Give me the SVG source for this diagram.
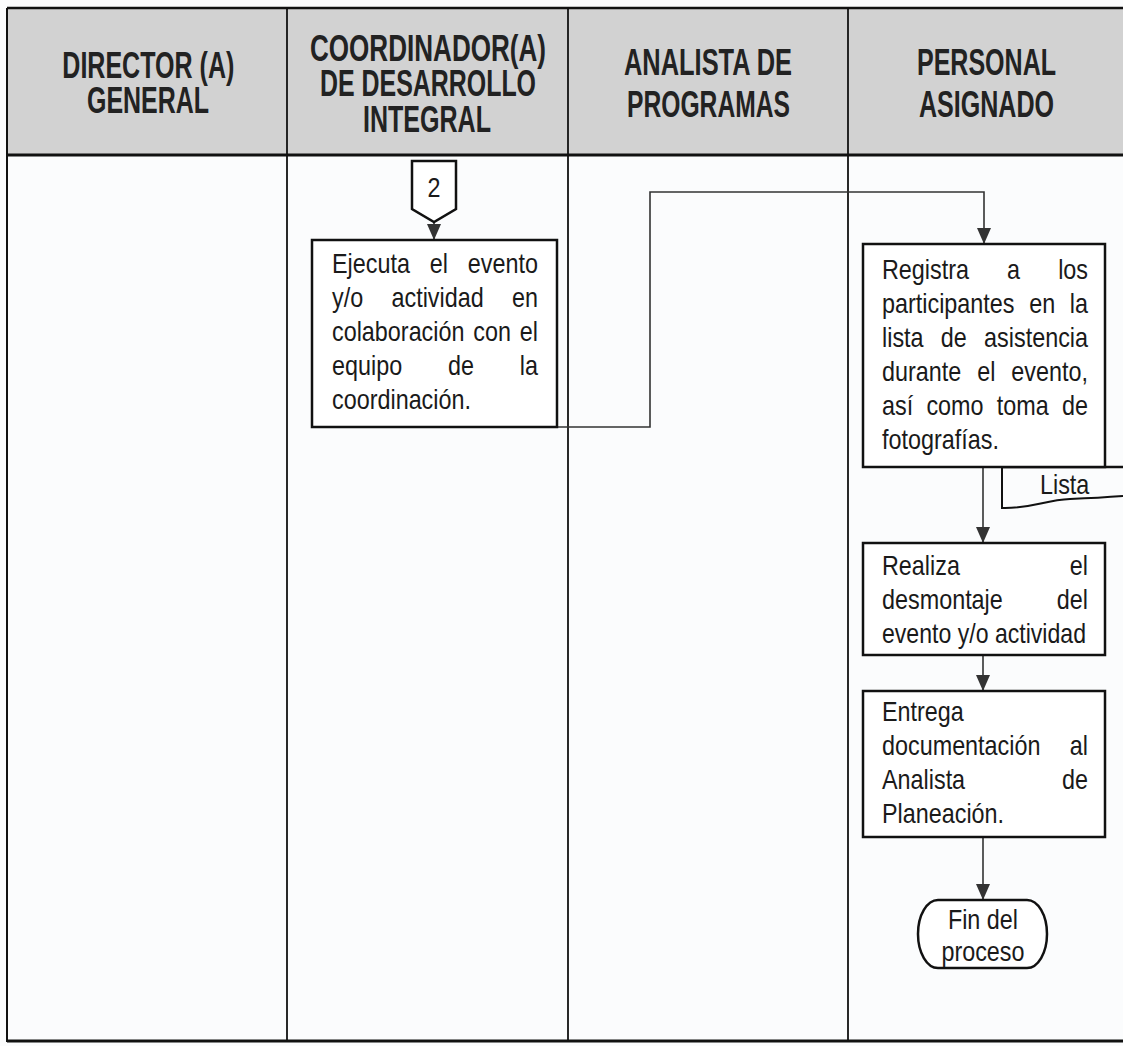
<svg xmlns="http://www.w3.org/2000/svg" width="1123" height="1046" viewBox="0 0 1123 1046">
<defs>
<marker id="arr" markerUnits="userSpaceOnUse" markerWidth="16" markerHeight="14" refX="16" refY="7" orient="auto" viewBox="0 0 16 14">
<path d="M0,0 L16,7 L0,14 Z" fill="#333"/>
</marker>
<style>
.hd{font-family:"Liberation Sans",Arial,sans-serif;font-weight:bold;font-size:36px;fill:#222}
.tx{font-family:"Liberation Sans",Arial,sans-serif;font-size:28.5px;fill:#1a1a1a}
.box{fill:#fff;stroke:#111;stroke-width:2.5}
.grid{stroke:#111;fill:none}
.con{stroke:#333;stroke-width:1.6;fill:none}
</style>
</defs>
<rect x="0" y="0" width="1123" height="1046" fill="#fbfcfd"/>
<rect x="7" y="8" width="1116" height="147" fill="#d2d2d2"/>
<g id="grid">
<line class="grid" x1="7" y1="8" x2="1123" y2="8" stroke-width="2.5"/>
<line class="grid" x1="7" y1="8" x2="7" y2="1042" stroke-width="2"/>
<line class="grid" x1="287" y1="8" x2="287" y2="1042" stroke-width="1.8"/>
<line class="grid" x1="568" y1="8" x2="568" y2="1042" stroke-width="1.8"/>
<line class="grid" x1="848" y1="8" x2="848" y2="1042" stroke-width="1.8"/>
<line class="grid" x1="7" y1="155" x2="1123" y2="155" stroke-width="3"/>
<line class="grid" x1="7" y1="1041" x2="1123" y2="1041" stroke-width="3"/>
</g>
<g id="headers">
<text class="hd" x="62.3" y="78" textLength="172" lengthAdjust="spacingAndGlyphs">DIRECTOR (A)</text>
<text class="hd" x="87" y="113" textLength="122" lengthAdjust="spacingAndGlyphs">GENERAL</text>
<text class="hd" x="310" y="61" textLength="236" lengthAdjust="spacingAndGlyphs">COORDINADOR(A)</text>
<text class="hd" x="320" y="96" textLength="216" lengthAdjust="spacingAndGlyphs">DE DESARROLLO</text>
<text class="hd" x="363" y="132" textLength="128" lengthAdjust="spacingAndGlyphs">INTEGRAL</text>
<text class="hd" x="624" y="75" textLength="168" lengthAdjust="spacingAndGlyphs">ANALISTA DE</text>
<text class="hd" x="627" y="117" textLength="163" lengthAdjust="spacingAndGlyphs">PROGRAMAS</text>
<text class="hd" x="917" y="75" textLength="139" lengthAdjust="spacingAndGlyphs">PERSONAL</text>
<text class="hd" x="919" y="117" textLength="135" lengthAdjust="spacingAndGlyphs">ASIGNADO</text>
</g>
<g id="connectors">
<path class="con" d="M434,222 L434,240" marker-end="url(#arr)"/>
<path class="con" d="M557,427 L650,427 L650,192 L984,192 L984,244" marker-end="url(#arr)"/>
<path class="con" d="M983,467 L983,543" marker-end="url(#arr)"/>
<path class="con" d="M983,655 L983,691" marker-end="url(#arr)"/>
<path class="con" d="M983,837 L983,900" marker-end="url(#arr)"/>
</g>
<g id="offpage2">
<polygon class="box" points="412,161 456,161 456,209 434,222 412,209" stroke-width="2"/>
<text class="tx" x="427.5" y="197" font-size="25" textLength="13" lengthAdjust="spacingAndGlyphs">2</text>
</g>
<g id="ejecuta">
<rect class="box" x="312" y="240" width="245" height="187"/>
<text class="tx" x="332" y="273" textLength="77.94" lengthAdjust="spacingAndGlyphs">Ejecuta</text>
<text class="tx" x="429.8" y="273" textLength="18.18" lengthAdjust="spacingAndGlyphs">el</text>
<text class="tx" x="467.84" y="273" textLength="70.16" lengthAdjust="spacingAndGlyphs">evento</text>
<text class="tx" x="332" y="307" textLength="31.18" lengthAdjust="spacingAndGlyphs">y/o</text>
<text class="tx" x="391.48" y="307" textLength="92.22" lengthAdjust="spacingAndGlyphs">actividad</text>
<text class="tx" x="512.01" y="307" textLength="25.99" lengthAdjust="spacingAndGlyphs">en</text>
<text class="tx" x="332" y="341" textLength="132.48" lengthAdjust="spacingAndGlyphs">colaboración</text>
<text class="tx" x="473.31" y="341" textLength="37.67" lengthAdjust="spacingAndGlyphs">con</text>
<text class="tx" x="519.82" y="341" textLength="18.18" lengthAdjust="spacingAndGlyphs">el</text>
<text class="tx" x="332" y="375" textLength="70.16" lengthAdjust="spacingAndGlyphs">equipo</text>
<text class="tx" x="448" y="375" textLength="25.99" lengthAdjust="spacingAndGlyphs">de</text>
<text class="tx" x="519.82" y="375" textLength="18.18" lengthAdjust="spacingAndGlyphs">la</text>
<text class="tx" x="332" y="409" textLength="138.98" lengthAdjust="spacingAndGlyphs">coordinación.</text>
</g>
<g id="lista">
<path d="M1002,467 L1002,508 C1030,509 1045,500 1070,499 C1095,498 1110,497 1123,496" fill="none" stroke="#111" stroke-width="2"/>
<line x1="1002" y1="467" x2="1123" y2="467" stroke="#111" stroke-width="2.5"/>
<text class="tx" x="1040" y="494" textLength="49.36" lengthAdjust="spacingAndGlyphs">Lista</text>
</g>
<g id="registra">
<rect class="box" x="863" y="244" width="242" height="223"/>
<text class="tx" x="882" y="279" textLength="87.01" lengthAdjust="spacingAndGlyphs">Registra</text>
<text class="tx" x="1007.08" y="279" textLength="12.99" lengthAdjust="spacingAndGlyphs">a</text>
<text class="tx" x="1058.13" y="279" textLength="29.87" lengthAdjust="spacingAndGlyphs">los</text>
<text class="tx" x="882" y="313" textLength="132.48" lengthAdjust="spacingAndGlyphs">participantes</text>
<text class="tx" x="1029.16" y="313" textLength="25.99" lengthAdjust="spacingAndGlyphs">en</text>
<text class="tx" x="1069.82" y="313" textLength="18.18" lengthAdjust="spacingAndGlyphs">la</text>
<text class="tx" x="882" y="347" textLength="41.55" lengthAdjust="spacingAndGlyphs">lista</text>
<text class="tx" x="940.83" y="347" textLength="25.99" lengthAdjust="spacingAndGlyphs">de</text>
<text class="tx" x="984.1" y="347" textLength="103.9" lengthAdjust="spacingAndGlyphs">asistencia</text>
<text class="tx" x="882" y="381" textLength="79.25" lengthAdjust="spacingAndGlyphs">durante</text>
<text class="tx" x="977.21" y="381" textLength="18.18" lengthAdjust="spacingAndGlyphs">el</text>
<text class="tx" x="1011.35" y="381" textLength="76.65" lengthAdjust="spacingAndGlyphs">evento,</text>
<text class="tx" x="882" y="415" textLength="31.18" lengthAdjust="spacingAndGlyphs">así</text>
<text class="tx" x="926.43" y="415" textLength="57.14" lengthAdjust="spacingAndGlyphs">como</text>
<text class="tx" x="996.82" y="415" textLength="51.95" lengthAdjust="spacingAndGlyphs">toma</text>
<text class="tx" x="1062.01" y="415" textLength="25.99" lengthAdjust="spacingAndGlyphs">de</text>
<text class="tx" x="882" y="449" textLength="116.92" lengthAdjust="spacingAndGlyphs">fotografías.</text>
</g>
<g id="realiza">
<rect class="box" x="863" y="543" width="242" height="112"/>
<text class="tx" x="882" y="575" textLength="77.92" lengthAdjust="spacingAndGlyphs">Realiza</text>
<text class="tx" x="1069.82" y="575" textLength="18.18" lengthAdjust="spacingAndGlyphs">el</text>
<text class="tx" x="882" y="609" textLength="120.8" lengthAdjust="spacingAndGlyphs">desmontaje</text>
<text class="tx" x="1056.82" y="609" textLength="31.18" lengthAdjust="spacingAndGlyphs">del</text>
<text class="tx" x="882" y="643" textLength="204" lengthAdjust="spacingAndGlyphs">evento y/o actividad</text>
</g>
<g id="entrega">
<rect class="box" x="863" y="691" width="242" height="146"/>
<text class="tx" x="882" y="721" textLength="81.84" lengthAdjust="spacingAndGlyphs">Entrega</text>
<text class="tx" x="882" y="755" textLength="158.47" lengthAdjust="spacingAndGlyphs">documentación</text>
<text class="tx" x="1069.82" y="755" textLength="18.18" lengthAdjust="spacingAndGlyphs">al</text>
<text class="tx" x="882" y="789" textLength="83.13" lengthAdjust="spacingAndGlyphs">Analista</text>
<text class="tx" x="1062.01" y="789" textLength="25.99" lengthAdjust="spacingAndGlyphs">de</text>
<text class="tx" x="882" y="823" textLength="122.11" lengthAdjust="spacingAndGlyphs">Planeación.</text>
</g>
<g id="fin">
<rect class="box" x="918" y="900" width="129" height="68" rx="20" ry="34" stroke-width="2"/>
<text class="tx" x="947.9" y="929" textLength="70.13" lengthAdjust="spacingAndGlyphs">Fin del</text>
<text class="tx" x="941.4" y="961" textLength="83.13" lengthAdjust="spacingAndGlyphs">proceso</text>
</g>
</svg>
